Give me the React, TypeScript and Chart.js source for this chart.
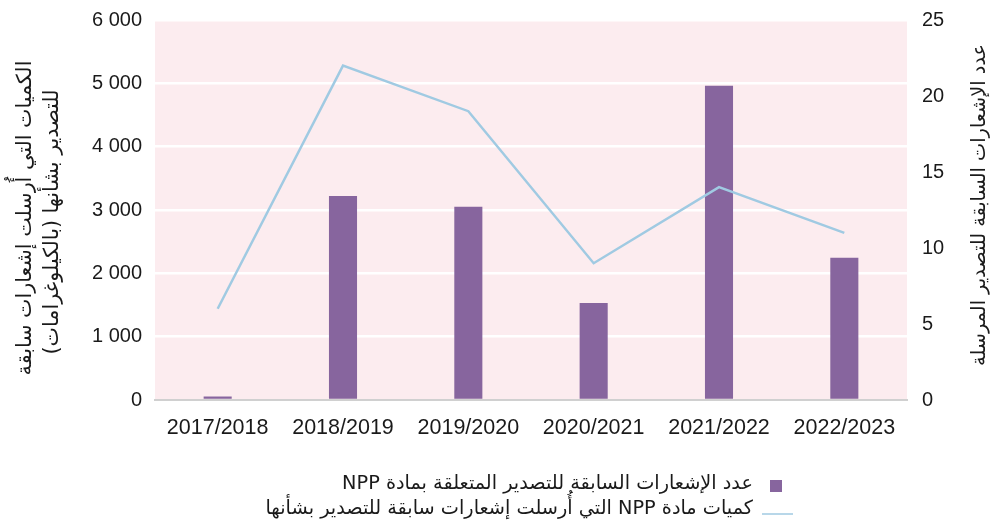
import React, { useEffect, useRef } from "react";
import { Chart, registerables } from "chart.js";

Chart.register(...registerables);

const categories = ["2017/2018", "2018/2019", "2019/2020", "2020/2021", "2021/2022", "2022/2023"];
const barValues = [55, 3220, 3050, 1530, 4960, 2245];
const lineValues = [6, 22, 19, 9, 14, 11];
const leftTickValues = [0, 1000, 2000, 3000, 4000, 5000, 6000];
const rightTickValues = [0, 5, 10, 15, 20, 25];

const barLabel = "عدد الإشعارات السابقة للتصدير المتعلقة بمادة NPP";
const lineLabel = "كميات مادة NPP التي أُرسلت إشعارات سابقة للتصدير بشأنها";
const leftTitle = ["الكميات التي أُرسلت إشعارات سابقة", "للتصدير بشأنها (بالكيلوغرامات)"];
const rightTitle = "عدد الإشعارات السابقة للتصدير المرسلة";

const BAR_COLOR = "#87659e";
const LINE_COLOR = "#a0cae2";
const BG_COLOR = "#fcecef";
const TEXT_COLOR = "#1a1a1a";
const AR_FONT = "'DejaVu Sans', 'Noto Sans', sans-serif";
const NUM_FONT = "'Liberation Sans', sans-serif";

function fmt(v: number) {
  return String(v).replace(/\B(?=(\d{3})+(?!\d))/g, " ");
}

function fitSize(ctx: CanvasRenderingContext2D, text: string, target: number, base: number) {
  ctx.font = `${base}px ${AR_FONT}`;
  const w = ctx.measureText(text).width;
  return base * target / w;
}

const decor = {
  id: "decor",
  beforeDraw(chart: any) {
    const { ctx, chartArea: a } = chart;
    ctx.save();
    ctx.fillStyle = BG_COLOR;
    ctx.fillRect(a.left, a.top, a.right - a.left, a.bottom - a.top);
    ctx.restore();
  },
  afterDraw(chart: any) {
    const ctx: CanvasRenderingContext2D = chart.ctx;
    ctx.save();
    ctx.fillStyle = TEXT_COLOR;
    ctx.direction = "rtl";
    ctx.textAlign = "center";
    ctx.textBaseline = "middle";

    // Left title (two lines, rotated)
    const ls = fitSize(ctx, leftTitle[0], 315, 18);
    ctx.font = `${ls}px ${AR_FONT}`;
    ctx.save();
    ctx.translate(26, 218);
    ctx.rotate(-Math.PI / 2);
    ctx.fillText(leftTitle[0], 0, 0);
    ctx.restore();
    ctx.save();
    ctx.translate(53, 222);
    ctx.rotate(-Math.PI / 2);
    ctx.fillText(leftTitle[1], 0, 0);
    ctx.restore();

    // Right title
    const rs = fitSize(ctx, rightTitle, 322, 18);
    ctx.font = `${rs}px ${AR_FONT}`;
    ctx.save();
    ctx.translate(980, 205);
    ctx.rotate(-Math.PI / 2);
    ctx.fillText(rightTitle, 0, 0);
    ctx.restore();

    // Legend
    const gs = fitSize(ctx, lineLabel, 488, 18);
    ctx.font = `${gs}px ${AR_FONT}`;
    ctx.textAlign = "right";
    ctx.textBaseline = "alphabetic";
    ctx.fillText(barLabel, 753, 489);
    ctx.fillText(lineLabel, 753, 514);
    ctx.fillStyle = BAR_COLOR;
    ctx.fillRect(770, 480, 12, 12);
    ctx.strokeStyle = LINE_COLOR;
    ctx.lineWidth = 1.5;
    ctx.beginPath();
    ctx.moveTo(762, 514);
    ctx.lineTo(793, 514);
    ctx.stroke();
    ctx.restore();
  },
};

export default function App() {
  const ref = useRef<HTMLCanvasElement>(null);
  useEffect(() => {
    if (!ref.current) return;
    const chart = new Chart(ref.current, {
      type: "bar",
      data: {
        labels: categories,
        datasets: [
          {
            type: "line",
            label: lineLabel,
            data: lineValues,
            yAxisID: "y1",
            borderColor: LINE_COLOR,
            backgroundColor: LINE_COLOR,
            borderWidth: 2.5,
            pointRadius: 0,
            tension: 0,
            order: 0,
          } as any,
          {
            type: "bar",
            label: barLabel,
            data: barValues,
            yAxisID: "y",
            backgroundColor: BAR_COLOR,
            barPercentage: 0.224,
            categoryPercentage: 1,
            order: 1,
          },
        ],
      },
      options: {
        animation: false,
        responsive: false,
        maintainAspectRatio: false,
        layout: { padding: { top: 20, left: 0, right: 0, bottom: 0 } },
        plugins: { legend: { display: false }, tooltip: { enabled: false } },
        scales: {
          x: {
            grid: { display: false, drawTicks: false },
            border: { display: true, color: "#d0d0d0", width: 2 },
            ticks: {
              color: TEXT_COLOR,
              font: { family: NUM_FONT, size: 21.5 },
              padding: 15,
              maxRotation: 0,
              autoSkip: false,
            },
            afterFit: (s: any) => { s.height = 125; s.paddingLeft = 0; s.paddingRight = 0; },
          },
          y: {
            position: "left",
            min: 0,
            max: 6000,
            afterBuildTicks: (s: any) => { s.ticks = leftTickValues.map((v) => ({ value: v })); },
            grid: {
              drawTicks: false,
              color: (c: any) => (c.tick && c.tick.value === 0 ? "rgba(0,0,0,0)" : "#ffffff"),
              lineWidth: 2.5,
            },
            border: { display: false },
            ticks: {
              color: TEXT_COLOR,
              font: { family: NUM_FONT, size: 20 },
              padding: 13,
              callback: (v: any) => fmt(Number(v)),
            },
            afterFit: (s: any) => { s.width = 155; s.paddingTop = 0; s.paddingBottom = 0; },
          },
          y1: {
            position: "right",
            min: 0,
            max: 25,
            afterBuildTicks: (s: any) => { s.ticks = rightTickValues.map((v) => ({ value: v })); },
            grid: { display: false, drawTicks: false },
            border: { display: false },
            ticks: {
              color: TEXT_COLOR,
              font: { family: NUM_FONT, size: 20 },
              padding: 15,
            },
            afterFit: (s: any) => { s.width = 85; s.paddingTop = 0; s.paddingBottom = 0; },
          },
        },
      },
      plugins: [decor],
    });
    return () => chart.destroy();
  }, []);
  return (
    <div style={{ position: "fixed", left: 0, top: 0, width: 992, height: 525, background: "#fff" }}>
      <canvas ref={ref} width={992} height={525} />
    </div>
  );
}
